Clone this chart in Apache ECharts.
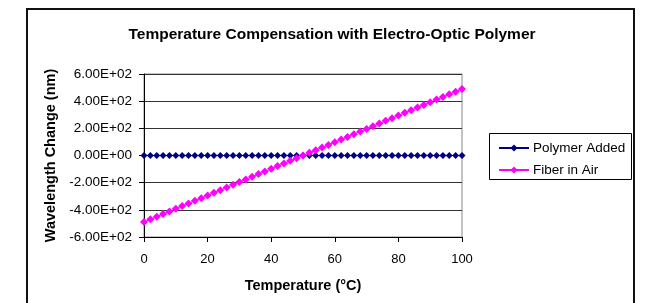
<!DOCTYPE html>
<html>
<head>
<meta charset="utf-8">
<script src="https://cdn.jsdelivr.net/npm/echarts@6/dist/echarts.min.js"></script>
<style>
  html, body { margin: 0; padding: 0; background: #fff; }
  #chart { width: 646px; height: 303px; }
</style>
</head>
<body>
<div id="chart"></div>
<script>
// temperature (°C)
var temps = [0, 2, 4, 6, 8, 10, 12, 14, 16, 18, 20, 22, 24, 26, 28, 30, 32, 34, 36, 38, 40,
  42, 44, 46, 48, 50, 52, 54, 56, 58, 60, 62, 64, 66, 68, 70, 72, 74, 76, 78, 80,
  82, 84, 86, 88, 90, 92, 94, 96, 98, 100]
// wavelength change (nm)
var polymerAdded = [0, 0, 0, 0, 0, 0, 0, 0, 0, 0, 0, 0, 0, 0, 0, 0, 0, 0, 0, 0, 0,
  0, 0, 0, 0, 0, 0, 0, 0, 0, 0, 0, 0, 0, 0, 0, 0, 0, 0, 0, 0,
  0, 0, 0, 0, 0, 0, 0, 0, 0, 0]
var fiberInAir = [-490, -470, -451, -431, -412, -392, -372, -353, -333, -314, -294,
  -274, -255, -235, -216, -196, -176, -157, -137, -118, -98,
  -78, -59, -39, -20, 0, 20, 39, 59, 78, 98,
  118, 137, 157, 176, 196, 216, 235, 255, 274, 294,
  314, 333, 353, 372, 392, 412, 431, 451, 470, 490]
var seriesNames = ['Polymer Added', 'Fiber in Air']

function pairs(xs, ys) {
  var out = []
  for (var i = 0; i < xs.length; i++) out.push([xs[i], ys[i]])
  return out
}

// excel style 6.00E+02
function sci(v) {
  if (v === 0) return '0.00E+00'
  var s = Math.abs(v).toExponential(2).split('e')
  var e = parseInt(s[1], 10)
  var es = (e < 0 ? '-' : '+') + (Math.abs(e) < 10 ? '0' : '') + Math.abs(e)
  return (v < 0 ? '-' : '') + s[0] + 'E' + es
}

var font = 'Liberation Sans, Arial, sans-serif'
var myChart = echarts.init(document.getElementById('chart'))

var option = {
  backgroundColor: '#fff',
  animation: false,
  textStyle: { fontFamily: font },
  title: {
    text: 'Temperature Compensation with Electro-Optic Polymer',
    left: 327,
    textAlign: 'center',
    top: 22,
    textStyle: { fontSize: 15.5, fontWeight: 'bold', color: '#000', fontFamily: font }
  },
  graphic: [{
    type: 'rect',
    shape: { x: 27, y: 9, width: 607, height: 310 },
    style: { fill: 'none', stroke: '#111', lineWidth: 2 },
    z: 0
  }, {
    // legend frame
    type: 'rect',
    shape: { x: 489.5, y: 133.5, width: 142, height: 46 },
    style: { fill: '#fff', stroke: '#000', lineWidth: 1 },
    z: 1
  }],
  legend: {
    orient: 'vertical',
    left: 493,
    top: 136,
    itemGap: 8,
    itemWidth: 30,
    itemHeight: 9,
    data: seriesNames,
    textStyle: { fontSize: 13.5, color: '#000', fontFamily: font, padding: [0, 0, 0, -1] },
    z: 5
  },
  grid: {
    left: 144,
    top: 74,
    width: 318,
    height: 163,
    show: true,
    borderColor: '#888',
    borderWidth: 1
  },
  xAxis: {
    type: 'value',
    min: 0,
    max: 100,
    interval: 20,
    name: 'Temperature (°C)',
    nameLocation: 'middle',
    nameGap: 41,
    nameTextStyle: { fontSize: 14.5, fontWeight: 'bold', color: '#000' },
    axisLine: { onZero: false, lineStyle: { color: '#000' } },
    axisTick: { show: true, length: 5, lineStyle: { color: '#000' } },
    axisLabel: { fontSize: 13, color: '#000', margin: 16 },
    splitLine: { show: false }
  },
  yAxis: {
    type: 'value',
    min: -600,
    max: 600,
    interval: 200,
    name: 'Wavelength Change (nm)',
    nameLocation: 'middle',
    nameGap: 86,
    nameTextStyle: { fontSize: 14.5, fontWeight: 'bold', color: '#000' },
    axisLine: { show: true, lineStyle: { color: '#000' } },
    axisTick: { show: true, length: 5, lineStyle: { color: '#000' } },
    axisLabel: { fontSize: 13.5, color: '#000', margin: 12, formatter: sci },
    splitLine: { show: true, lineStyle: { color: '#333', width: 1 } }
  },
  series: [{
    name: seriesNames[0],
    type: 'line',
    data: pairs(temps, polymerAdded),
    symbol: 'diamond',
    symbolSize: 7,
    color: '#000080',
    lineStyle: { color: '#000080', width: 1 },
    itemStyle: { color: '#000080' },
    z: 3
  }, {
    name: seriesNames[1],
    type: 'line',
    data: pairs(temps, fiberInAir),
    symbol: 'diamond',
    symbolSize: 8,
    color: '#ff00ff',
    lineStyle: { color: '#ff00ff', width: 1 },
    itemStyle: { color: '#ff00ff' },
    z: 4
  }]
}

myChart.setOption(option)
</script>
</body>
</html>
